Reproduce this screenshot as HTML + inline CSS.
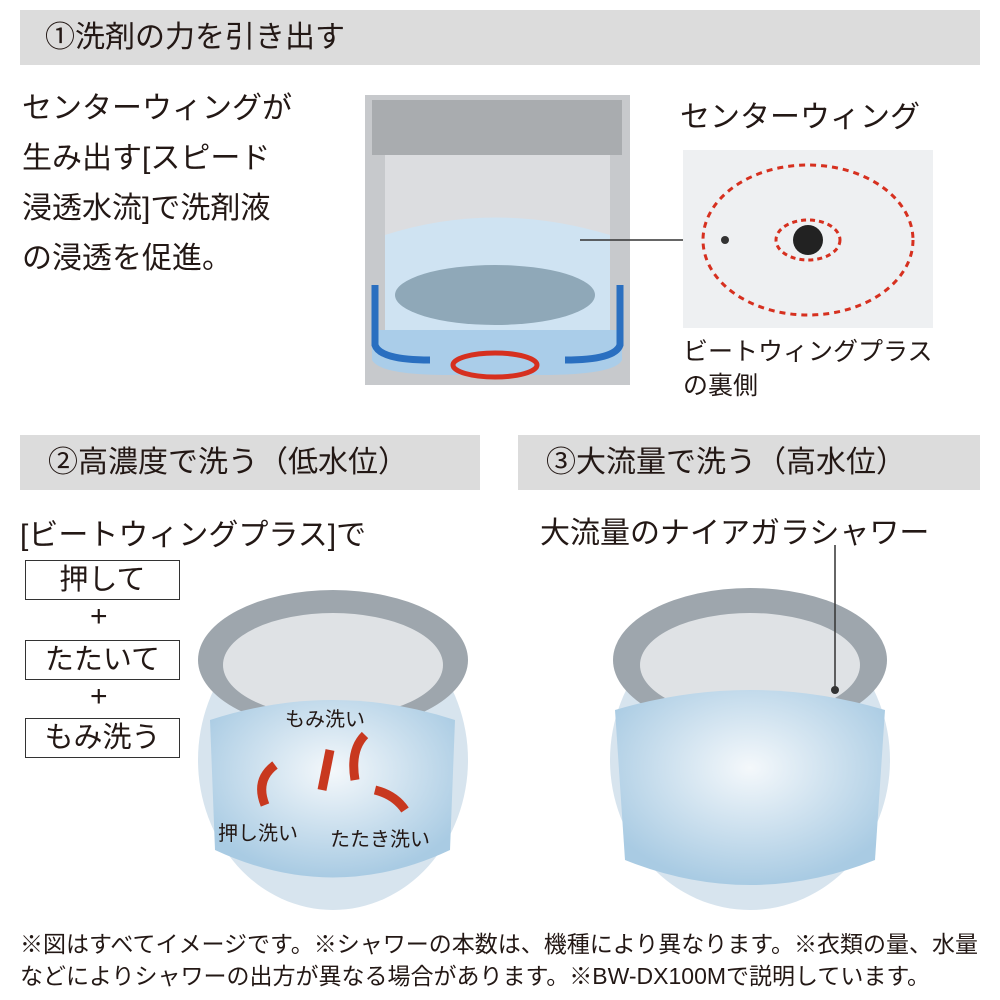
<!DOCTYPE html>
<html><head><meta charset="utf-8"><style>
body{margin:0;width:1000px;height:1000px;background:#fff;overflow:hidden;font-family:"Liberation Sans","Noto Sans CJK JP",sans-serif;color:#231815}
.a{position:absolute;white-space:nowrap}
.hd{position:absolute;background:#dcdcdc;font-size:30px;line-height:55px}
.box{position:absolute;border:1.5px solid #333;font-size:29px;text-align:center;line-height:38px;width:153px;left:25px;height:38px}
</style></head><body>
<div class="hd" style="left:20px;top:10px;width:960px;height:55px;padding-left:25px;box-sizing:border-box">①洗剤の力を引き出す</div>
<div class="a" style="left:22px;top:84px;font-size:30px;line-height:50px">センターウィングが<br>生み出す[スピード<br>浸透水流]で洗剤液<br>の浸透を促進。</div>
<svg class="a" style="left:0;top:0" width="1000" height="1000">
<defs>
<radialGradient id="w" cx="50%" cy="40%" r="60%"><stop offset="0" stop-color="#f4f8fb"/><stop offset="1" stop-color="#a9cbe3"/></radialGradient>
</defs>
<rect x="365" y="95" width="265" height="290" fill="#c7c9cc"/>
<rect x="372" y="100" width="250" height="55" fill="#a9acaf"/>
<rect x="385" y="155" width="225" height="170" fill="#dcdde0"/>
<path d="M385 235 Q495 200 610 235 L610 330 L385 330Z" fill="#cfe3f2"/>
<ellipse cx="495" cy="295" rx="100" ry="30" fill="#8fa8b8"/>
<path d="M372 330 L372 360 Q380 375 450 375 L540 375 Q615 375 622 360 L622 330Z" fill="#aacde9"/>
<path d="M375 285 L375 345 Q380 360 430 360" stroke="#2a6fc0" stroke-width="7" fill="none"/>
<path d="M620 285 L620 345 Q615 360 565 360" stroke="#2a6fc0" stroke-width="7" fill="none"/>
<ellipse cx="495" cy="365" rx="42" ry="12" fill="none" stroke="#d6301f" stroke-width="5"/>
<line x1="580" y1="240" x2="725" y2="240" stroke="#333" stroke-width="1.5"/>
<rect x="683" y="150" width="250" height="178" fill="#eef0f2"/>
<ellipse cx="808" cy="240" rx="105" ry="75" fill="none" stroke="#d6301f" stroke-width="3" stroke-dasharray="6 5"/>
<ellipse cx="808" cy="240" rx="32" ry="20" fill="none" stroke="#d6301f" stroke-width="3" stroke-dasharray="5 4"/>
<circle cx="808" cy="240" r="15" fill="#222"/>
<circle cx="725" cy="240" r="4" fill="#333"/>
<ellipse cx="333" cy="760" rx="135" ry="150" fill="#d7e4ee"/>
<ellipse cx="333" cy="660" rx="135" ry="70" fill="#9ea6ad"/>
<ellipse cx="333" cy="665" rx="110" ry="52" fill="#dfe2e5"/>
<path d="M210 720 Q333 680 455 720 L450 850 Q333 905 215 850Z" fill="url(#w)"/>
<path d="M265 805 Q255 780 275 765" stroke="#c8381f" stroke-width="9" fill="none"/>
<path d="M330 750 L322 790" stroke="#c8381f" stroke-width="9"/>
<path d="M355 780 Q350 750 365 735" stroke="#c8381f" stroke-width="9" fill="none"/>
<path d="M375 790 Q395 795 405 810" stroke="#c8381f" stroke-width="9" fill="none"/>
<ellipse cx="750" cy="760" rx="140" ry="150" fill="#d7e4ee"/>
<ellipse cx="750" cy="660" rx="137" ry="72" fill="#9ea6ad"/>
<ellipse cx="750" cy="665" rx="110" ry="52" fill="#dfe2e5"/>
<path d="M615 710 Q750 670 885 710 L875 860 Q750 910 625 860Z" fill="url(#w)"/>
<line x1="835" y1="545" x2="835" y2="690" stroke="#333" stroke-width="1.5"/>
<circle cx="835" cy="690" r="4" fill="#333"/>
</svg>
<div class="a" style="left:680px;top:92px;font-size:30px">センターウィング</div>
<div class="a" style="left:683px;top:335px;font-size:25px;line-height:34px">ビートウィングプラス<br>の裏側</div>
<div class="hd" style="left:20px;top:435px;width:460px;height:55px;padding-left:28px;box-sizing:border-box">②高濃度で洗う（低水位）</div>
<div class="hd" style="left:518px;top:435px;width:462px;height:55px;padding-left:28px;box-sizing:border-box">③大流量で洗う（高水位）</div>
<div class="a" style="left:20px;top:510px;font-size:30px">[ビートウィングプラス]で</div>
<div class="a" style="left:540px;top:508px;font-size:30px">大流量のナイアガラシャワー</div>
<div class="box" style="top:560px">押して</div>
<div class="a" style="left:90px;top:600px;font-size:30px">+</div>
<div class="box" style="top:640px">たたいて</div>
<div class="a" style="left:90px;top:680px;font-size:30px">+</div>
<div class="box" style="top:718px">もみ洗う</div>
<div class="a" style="left:285px;top:703px;font-size:20px">もみ洗い</div>
<div class="a" style="left:218px;top:817px;font-size:20px">押し洗い</div>
<div class="a" style="left:330px;top:823px;font-size:20px">たたき洗い</div>
<div class="a" style="left:20px;top:928px;font-size:23px;line-height:32px">※図はすべてイメージです。※シャワーの本数は、機種により異なります。※衣類の量、水量<br>などによりシャワーの出方が異なる場合があります。※BW-DX100Mで説明しています。</div>
</body></html>
